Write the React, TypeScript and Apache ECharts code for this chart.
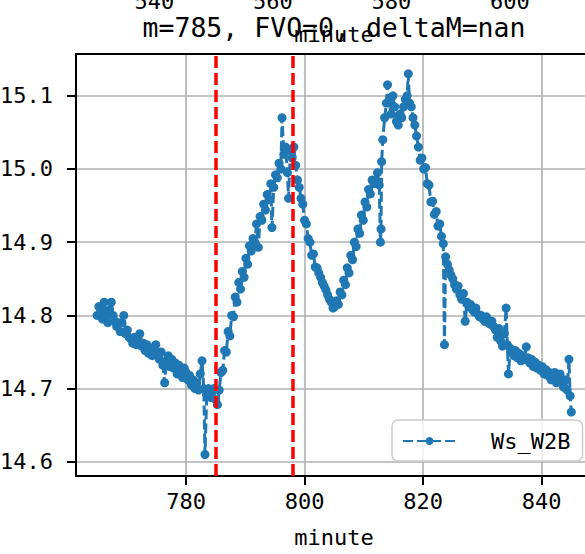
import React, { useEffect, useRef } from "react";
import * as echarts from "echarts";

const minutes = [
  765.0, 765.3, 765.6, 765.9, 766.2, 766.5, 766.8, 767.1, 767.4, 767.7,
  768.0, 768.3, 768.6, 768.9, 769.2, 769.5, 769.8, 770.1, 770.4, 770.7,
  771.0, 771.3, 771.6, 771.9, 772.2, 772.5, 772.8, 773.1, 773.4, 773.7,
  774.0, 774.3, 774.6, 774.9, 775.2, 775.5, 775.8, 776.1, 776.4, 776.7,
  777.0, 777.3, 777.6, 777.9, 778.2, 778.5, 778.8, 779.1, 779.4, 779.7,
  780.0, 780.3, 780.6, 780.9, 781.2, 781.5, 781.8, 782.1, 782.4, 782.7,
  783.0, 783.2, 783.5, 783.8, 784.1, 784.4, 784.7, 785.0, 785.3, 785.6,
  785.9, 786.2, 786.5, 786.8, 787.1, 787.4, 787.7, 788.0, 788.3, 788.6,
  788.9, 789.2, 789.5, 789.8, 790.1, 790.4, 790.7, 791.0, 791.3, 791.6,
  791.9, 792.2, 792.5, 792.8, 793.1, 793.4, 793.7, 794.0, 794.3, 794.5,
  794.8, 795.1, 795.4, 795.7, 796.0, 796.2, 796.5, 796.8, 797.1, 797.3,
  797.6, 797.9, 798.2, 798.5, 798.8, 799.1, 799.4, 799.7, 800.0, 800.3,
  800.6, 800.9, 801.2, 801.5, 801.8, 802.1, 802.4, 802.7, 803.0, 803.3,
  803.6, 803.9, 804.2, 804.5, 804.8, 805.1, 805.4, 805.7, 806.0, 806.3,
  806.6, 806.9, 807.2, 807.5, 807.8, 808.1, 808.4, 808.7, 809.0, 809.3,
  809.6, 809.9, 810.2, 810.5, 810.8, 811.1, 811.4, 811.7, 812.0, 812.3,
  812.6, 812.8, 812.9, 813.0, 813.2, 813.5, 813.8, 814.0, 814.3, 814.6,
  814.9, 815.2, 815.5, 815.8, 816.1, 816.4, 816.7, 817.0, 817.3, 817.5,
  817.7, 818.0, 818.3, 818.6, 818.9, 819.2, 819.5, 819.8, 820.1, 820.4,
  820.7, 821.0, 821.3, 821.6, 821.9, 822.2, 822.5, 822.8, 823.1, 823.4,
  823.6, 823.8, 824.1, 824.4, 824.7, 825.0, 825.3, 825.6, 825.9, 826.2,
  826.5, 826.8, 827.1, 827.4, 827.7, 828.0, 828.3, 828.6, 828.9, 829.2,
  829.5, 829.8, 830.1, 830.4, 830.7, 831.0, 831.3, 831.6, 831.9, 832.2,
  832.5, 832.8, 833.1, 833.4, 833.7, 834.0, 834.2, 834.4, 834.7, 835.0,
  835.3, 835.6, 835.9, 836.2, 836.5, 836.8, 837.1, 837.4, 837.7, 838.0,
  838.3, 838.6, 838.9, 839.2, 839.5, 839.8, 840.1, 840.4, 840.7, 841.0,
  841.3, 841.6, 841.9, 842.2, 842.5, 842.8, 843.1, 843.4, 843.7, 844.0,
  844.3, 844.6, 844.8, 845.0,
];

const wsW2B = [
  14.800, 14.812, 14.805, 14.795, 14.818, 14.800, 14.790, 14.808, 14.818, 14.800,
  14.792, 14.785, 14.790, 14.778, 14.790, 14.800, 14.775, 14.780, 14.770, 14.768,
  14.762, 14.770, 14.760, 14.768, 14.775, 14.758, 14.762, 14.752, 14.760, 14.748,
  14.755, 14.745, 14.752, 14.760, 14.748, 14.740, 14.750, 14.732, 14.708, 14.738,
  14.745, 14.730, 14.740, 14.728, 14.735, 14.720, 14.732, 14.725, 14.715, 14.728,
  14.722, 14.712, 14.718, 14.705, 14.712, 14.700, 14.708, 14.698, 14.720, 14.738,
  14.700, 14.610, 14.692, 14.700, 14.688, 14.695, 14.700, 14.685, 14.678, 14.698,
  14.722, 14.725, 14.752, 14.750, 14.778, 14.772, 14.800, 14.798, 14.825, 14.818,
  14.845, 14.836, 14.860, 14.852, 14.878, 14.870, 14.895, 14.888, 14.905, 14.900,
  14.925, 14.893, 14.935, 14.930, 14.952, 14.944, 14.965, 14.958, 14.980, 14.920,
  14.975, 14.992, 14.988, 15.008, 15.000, 15.070, 15.020, 15.030, 14.995, 14.960,
  15.025, 15.015, 15.030, 15.005, 14.985, 14.975, 14.960, 14.952, 14.930, 14.925,
  14.905, 14.900, 14.882, 14.884, 14.866, 14.865, 14.858, 14.852, 14.845, 14.840,
  14.835, 14.828, 14.822, 14.818, 14.810, 14.812, 14.820, 14.815, 14.832, 14.828,
  14.848, 14.842, 14.865, 14.858, 14.882, 14.876, 14.900, 14.894, 14.918, 14.912,
  14.937, 14.930, 14.955, 14.948, 14.972, 14.966, 14.985, 14.980, 14.985, 14.995,
  14.978, 14.900, 14.918, 15.010, 15.040, 15.070, 15.090, 15.115, 15.090, 15.075,
  15.100, 15.085, 15.065, 15.060, 15.075, 15.070, 15.085, 15.095, 15.100, 15.130,
  15.090, 15.085, 15.070, 15.060, 15.045, 15.030, 15.012, 15.015, 15.000, 15.002,
  14.980, 14.978, 14.955, 14.956, 14.938, 14.942, 14.922, 14.925, 14.908, 14.898,
  14.760, 14.880, 14.870, 14.862, 14.855, 14.850, 14.842, 14.836, 14.840, 14.828,
  14.822, 14.830, 14.792, 14.818, 14.812, 14.815, 14.808, 14.805, 14.810, 14.802,
  14.798, 14.800, 14.795, 14.792, 14.798, 14.790, 14.788, 14.792, 14.785, 14.780,
  14.770, 14.782, 14.765, 14.758, 14.775, 14.810, 14.760, 14.720, 14.755, 14.750,
  14.745, 14.752, 14.742, 14.748, 14.738, 14.745, 14.740, 14.757, 14.742, 14.735,
  14.740, 14.730, 14.736, 14.728, 14.732, 14.725, 14.730, 14.720, 14.726, 14.718,
  14.722, 14.712, 14.718, 14.722, 14.708, 14.715, 14.720, 14.710, 14.702, 14.712,
  14.698, 14.740, 14.690, 14.668,
];

const markerMinutes = [785, 798];
const bottomTicks = [780, 800, 820, 840];
const topTicks = [540, 560, 580, 600];
const yTicks = [14.6, 14.7, 14.8, 14.9, 15.0, 15.1];
const seriesName = "Ws_W2B";
const titleText = "m=785, FVO=0, deltaM=nan";
const axisName = "minute";

const FONT = "DejaVu Sans Mono";
const BLUE = "#1f77b4";
const GRID = "#b0b0b0";

export default function App() {
  const ref = useRef<HTMLDivElement>(null);

  useEffect(() => {
    if (!ref.current) return;
    const chart = echarts.init(ref.current, null, { renderer: "svg" });
    const data = minutes.map((m, i) => [m, wsW2B[i]]);
    const labelStyle = { color: "#000", fontFamily: FONT, fontSize: 22 };

    chart.setOption({
      animation: false,
      backgroundColor: "#fff",
      grid: {
        left: 76,
        right: 8,
        top: 54,
        bottom: 78,
        containLabel: false,
        outerBoundsMode: "none",
      },
      graphic: [
        {
          type: "text",
          x: 334,
          y: 27,
          z: 10,
          style: {
            text: titleText,
            fill: "#000",
            font: `26.5px "${FONT}"`,
            align: "center",
            verticalAlign: "middle",
          },
        },
      ],
      legend: {
        left: 392,
        top: 420,
        padding: [10, 12, 9, 10],
        itemWidth: 53,
        itemHeight: 10,
        backgroundColor: "rgba(255,255,255,0.8)",
        borderColor: "#cccccc",
        borderWidth: 1.5,
        borderRadius: 6,
        textStyle: { ...labelStyle, padding: [0, 0, 0, 30] },
        data: [seriesName],
      },
      xAxis: [
        {
          type: "value",
          position: "bottom",
          min: 761.44,
          max: 848.49,
          name: axisName,
          nameLocation: "middle",
          nameGap: 50,
          nameMoveOverlap: false,
          nameTextStyle: labelStyle,
          axisLine: { show: true, onZero: false, lineStyle: { color: "#000", width: 2 } },
          axisTick: {
            show: true,
            customValues: bottomTicks,
            length: 9,
            lineStyle: { color: "#000", width: 2 },
          },
          axisLabel: { customValues: bottomTicks, margin: 14, ...labelStyle },
          splitLine: { show: true, lineStyle: { color: GRID, width: 1.6 } },
        },
        {
          type: "value",
          position: "top",
          min: 526.79,
          max: 613.84,
          name: axisName,
          nameLocation: "middle",
          nameGap: 9,
          nameMoveOverlap: false,
          nameTextStyle: labelStyle,
          axisLine: { show: true, onZero: false, lineStyle: { color: "#000", width: 2 } },
          axisTick: { show: false, customValues: topTicks },
          axisLabel: { customValues: topTicks, margin: 42, ...labelStyle },
          splitLine: { show: false },
        },
      ],
      yAxis: {
        type: "value",
        min: 14.5806,
        max: 15.1571,
        axisLine: { show: true, onZero: false, lineStyle: { color: "#000", width: 2 } },
        axisTick: {
          show: true,
          customValues: yTicks,
          length: 9,
          lineStyle: { color: "#000", width: 2 },
        },
        axisLabel: {
          customValues: yTicks,
          margin: 23,
          formatter: (v: number) => v.toFixed(1),
          ...labelStyle,
        },
        splitLine: { show: true, lineStyle: { color: GRID, width: 1.6 } },
      },
      series: [
        {
          name: seriesName,
          type: "line",
          xAxisIndex: 0,
          data,
          symbol: "circle",
          symbolSize: 9,
          showSymbol: true,
          itemStyle: { color: BLUE },
          lineStyle: { color: BLUE, width: 3, type: [10, 4] },
          emphasis: { disabled: true },
          markLine: {
            silent: true,
            symbol: ["none", "none"],
            label: { show: false },
            lineStyle: { color: "#ff0000", width: 3.5, type: [12, 5], opacity: 1 },
            emphasis: { disabled: true },
            data: markerMinutes.map((m) => ({ xAxis: m })),
          },
        },
      ],
    });

    return () => chart.dispose();
  }, []);

  return (
    <div
      style={{
        position: "fixed",
        left: 0,
        top: 0,
        width: 585,
        height: 554,
        overflow: "hidden",
        background: "#fff",
      }}
    >
      <div ref={ref} style={{ width: 600, height: 554 }} />
    </div>
  );
}
